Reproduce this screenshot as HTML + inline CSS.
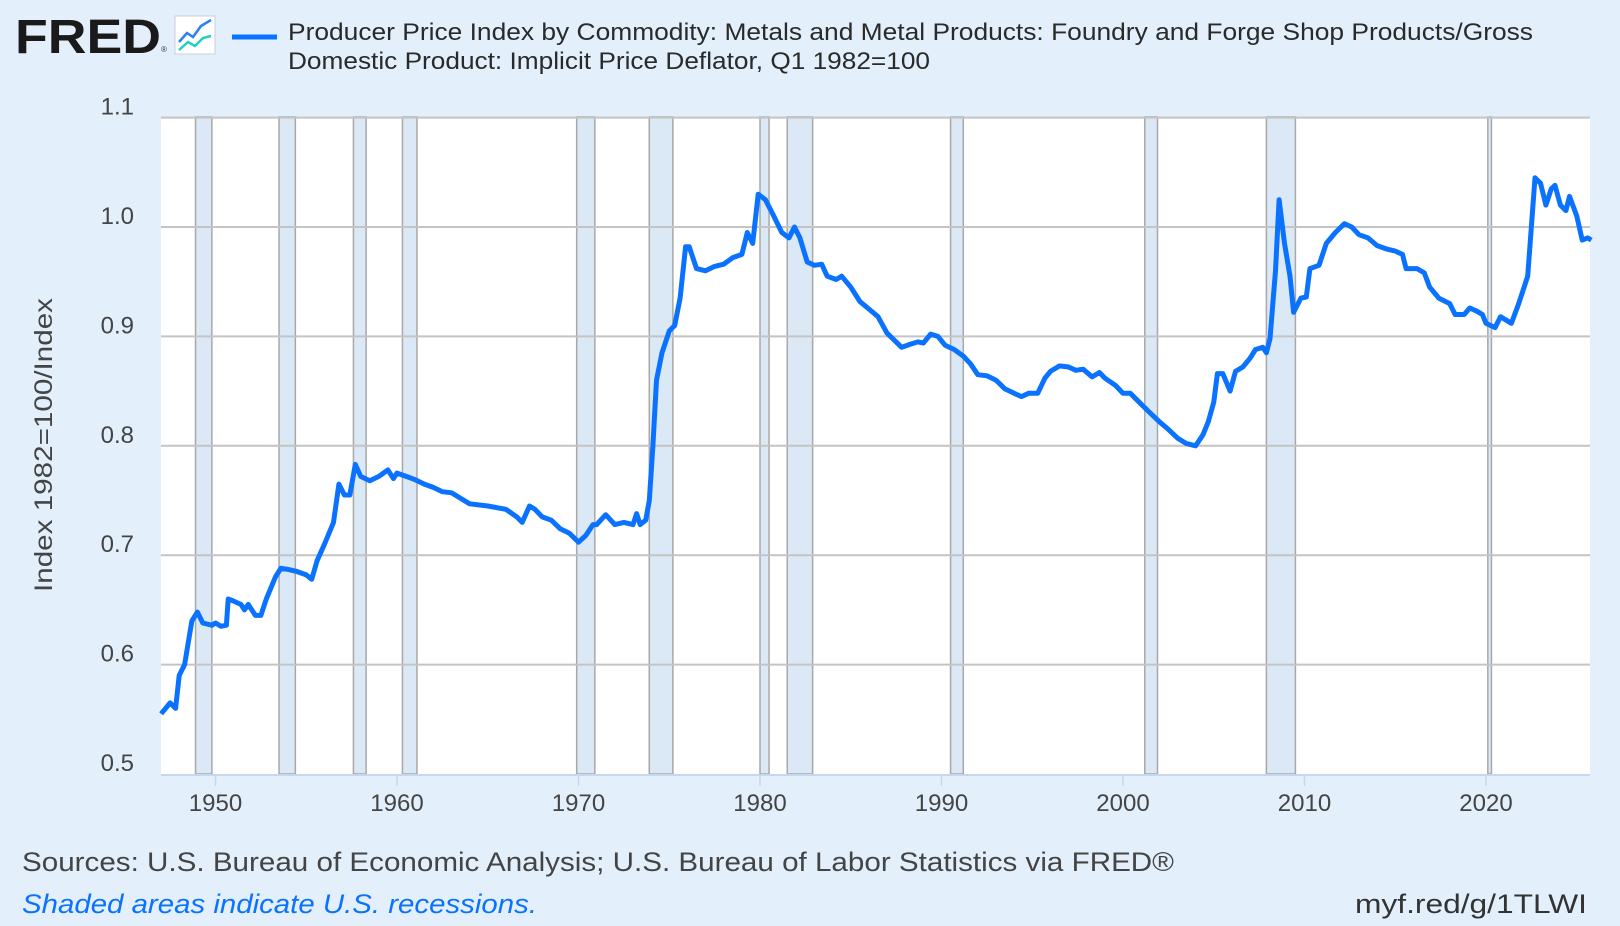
<!DOCTYPE html>
<html><head><meta charset="utf-8"><style>
body{margin:0;width:1620px;height:926px;background:#e3f0fb;font-family:"Liberation Sans",sans-serif;overflow:hidden}
</style></head><body>
<svg id="s" width="1620" height="926" xmlns="http://www.w3.org/2000/svg" style="position:absolute;left:0;top:0">
<text x="15" y="53" font-size="48" font-weight="bold" fill="#1a1a1a" textLength="146" lengthAdjust="spacingAndGlyphs">FRED</text>
<text x="161" y="52" font-size="8" fill="#333">®</text>
<rect x="175" y="16" width="40" height="38" fill="#fff" stroke="#ccd" stroke-width="1"/>
<polyline points="179,42 187,33 193,37 201,26 211,20" fill="none" stroke="#2a7fff" stroke-width="2.5"/>
<polyline points="179,50 188,42 195,46 203,38 211,36" fill="none" stroke="#20d0c0" stroke-width="2.5"/>
<line x1="232" y1="37" x2="277" y2="37" stroke="#0a72ff" stroke-width="5"/>
<text x="288" y="40" font-size="24" fill="#2a2a2a" textLength="1245" lengthAdjust="spacingAndGlyphs">Producer Price Index by Commodity: Metals and Metal Products: Foundry and Forge Shop Products/Gross</text>
<text x="288" y="69" font-size="24" fill="#2a2a2a" textLength="642" lengthAdjust="spacingAndGlyphs">Domestic Product: Implicit Price Deflator, Q1 1982=100</text>
<rect x="161" y="117" width="1429" height="657" fill="#fff"/>
<g id="rec"></g>
<g id="grid"></g>
<polyline id="line" fill="none" stroke="#0a72ff" stroke-width="5" stroke-linejoin="round"/>
<line x1="161" y1="775" x2="1590" y2="775" stroke="#c8d6ee" stroke-width="2"/>
<g id="lab" font-size="24" fill="#444"></g>
<text transform="translate(52,445) rotate(-90)" text-anchor="middle" font-size="25" fill="#444" textLength="294" lengthAdjust="spacingAndGlyphs">Index 1982=100/Index</text>
<text x="22" y="871" font-size="27" fill="#444" textLength="1152" lengthAdjust="spacingAndGlyphs">Sources: U.S. Bureau of Economic Analysis; U.S. Bureau of Labor Statistics via FRED®</text>
<text x="22" y="913" font-size="27" font-style="italic" fill="#0a72ff" textLength="515" lengthAdjust="spacingAndGlyphs">Shaded areas indicate U.S. recessions.</text>
<text x="1355" y="913" font-size="27" fill="#333" textLength="232" lengthAdjust="spacingAndGlyphs">myf.red/g/1TLWI</text>
</svg>
<script>
const X=y=>1123+(y-2000)*18.15, Y=v=>774-(v-0.5)*1094;
const ns="http://www.w3.org/2000/svg";
function el(p,t,a,txt){const e=document.createElementNS(ns,t);for(const k in a)e.setAttribute(k,a[k]);if(txt)e.textContent=txt;document.getElementById(p).appendChild(e);}
const rec=[[1948.9,1949.8],[1953.5,1954.4],[1957.6,1958.3],[1960.3,1961.1],[1969.9,1970.9],[1973.9,1975.2],[1980.0,1980.5],[1981.5,1982.9],[1990.5,1991.2],[2001.2,2001.9],[2007.9,2009.5],[2020.1,2020.3]];
rec.forEach(r=>{el("rec","rect",{x:X(r[0]),y:117,width:X(r[1])-X(r[0]),height:657,fill:"#dbe8f5",stroke:"#a8a8a8","stroke-width":1.5});});
for(let i=0;i<=6;i++){const v=0.5+i*0.1,y=Y(v);if(i>0)el("grid","line",{x1:161,x2:1590,y1:y,y2:y,stroke:"#c4c4c4","stroke-width":2});
el("lab","text",{x:134,y:y-3,"text-anchor":"end"},v.toFixed(1));}
for(let yr=1950;yr<=2020;yr+=10){const x=X(yr);el("lab","line",{x1:x,x2:x,y1:775,y2:786,stroke:"#c8d6ee","stroke-width":1.5});el("lab","text",{x:x,y:811,"text-anchor":"middle"},yr);}
const d=[1947.0,.555,1947.5,.565,1947.8,.56,1948.0,.59,1948.3,.60,1948.7,.64,1949.0,.648,1949.3,.638,1949.8,.636,1950.0,.638,1950.3,.635,1950.6,.636,1950.7,.66,1951,.658,1951.4,.655,1951.6,.65,1951.8,.655,1952.2,.645,1952.5,.645,1952.8,.66,1953.3,.68,1953.6,.688,1954,.687,1954.5,.685,1955,.682,1955.3,.678,1955.6,.695,1956,.71,1956.5,.73,1956.8,.765,1957.1,.755,1957.4,.755,1957.7,.783,1958,.772,1958.5,.768,1959,.772,1959.5,.778,1959.8,.77,1960,.775,1960.5,.772,1961,.769,1961.5,.765,1962,.762,1962.5,.758,1963,.757,1963.5,.752,1964,.747,1965,.745,1966,.742,1966.6,.735,1966.9,.73,1967.3,.745,1967.6,.742,1968,.735,1968.5,.732,1969,.724,1969.5,.72,1970,.712,1970.4,.718,1970.8,.728,1971,.728,1971.5,.737,1972,.728,1972.5,.73,1973,.728,1973.2,.738,1973.4,.728,1973.7,.732,1973.9,.75,1974.1,.8,1974.3,.86,1974.6,.885,1975,.905,1975.3,.91,1975.6,.935,1975.9,.982,1976.1,.982,1976.5,.962,1977,.96,1977.5,.964,1978,.966,1978.5,.972,1979,.975,1979.3,.995,1979.6,.985,1979.9,1.03,1980.3,1.025,1980.7,1.012,1981.2,.995,1981.6,.99,1981.9,1.0,1982.2,.99,1982.6,.968,1983,.965,1983.4,.966,1983.7,.955,1984.2,.952,1984.5,.955,1985,.945,1985.5,.932,1986,.925,1986.5,.918,1987,.903,1987.5,.895,1987.8,.89,1988.3,.893,1988.7,.895,1989,.894,1989.4,.902,1989.8,.9,1990.2,.892,1990.7,.888,1991.2,.882,1991.6,.875,1992,.865,1992.5,.864,1993,.86,1993.5,.852,1994,.848,1994.4,.845,1994.8,.848,1995.3,.848,1995.7,.862,1996,.868,1996.5,.873,1997,.872,1997.4,.869,1997.8,.87,1998.3,.863,1998.7,.867,1999,.862,1999.6,.855,2000,.848,2000.4,.848,2001,.838,2001.5,.83,2002,.822,2002.5,.815,2003,.807,2003.5,.802,2004,.8,2004.4,.81,2004.7,.822,2005,.84,2005.2,.866,2005.5,.866,2005.9,.85,2006.2,.868,2006.6,.872,2007,.88,2007.3,.888,2007.7,.89,2007.9,.885,2008.1,.898,2008.4,.96,2008.6,1.025,2008.9,.985,2009.2,.955,2009.4,.922,2009.8,.935,2010.1,.936,2010.3,.962,2010.8,.965,2011.2,.985,2011.7,.995,2012.2,1.003,2012.6,1.0,2013,.993,2013.5,.99,2014,.983,2014.5,.98,2015,.978,2015.4,.975,2015.6,.962,2016.2,.962,2016.6,.958,2016.9,.945,2017.4,.935,2018,.93,2018.3,.92,2018.8,.92,2019.1,.926,2019.5,.923,2019.8,.92,2020,.912,2020.5,.908,2020.8,.918,2021.4,.912,2021.8,.93,2022.3,.955,2022.7,1.045,2023,1.04,2023.3,1.02,2023.6,1.035,2023.8,1.038,2024.1,1.02,2024.4,1.015,2024.6,1.028,2025,1.01,2025.3,.988,2025.6,.99,2025.8,.988];
let p=[];for(let i=0;i<d.length;i+=2)p.push(X(d[i]).toFixed(1)+","+Y(d[i+1]).toFixed(1));
document.getElementById("line").setAttribute("points",p.join(" "));
</script>
</body></html>
